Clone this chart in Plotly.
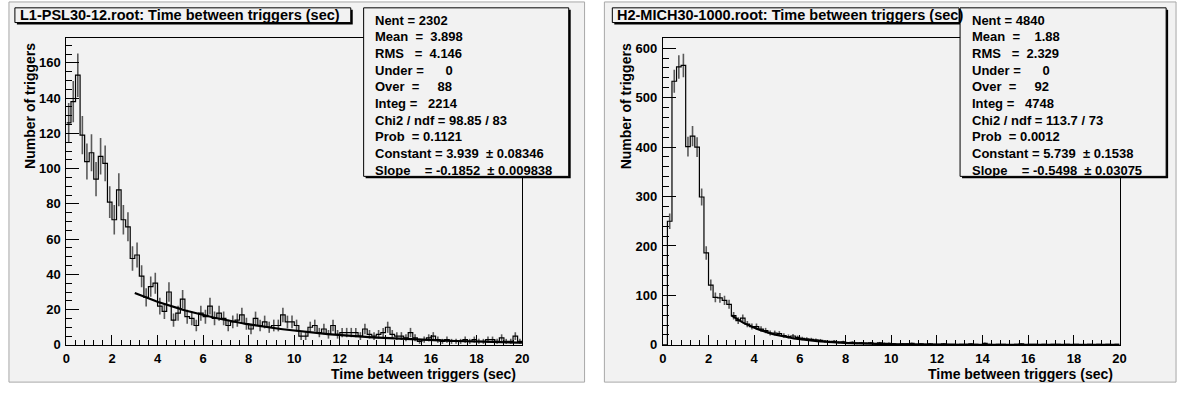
import numpy as np
import plotly.graph_objects as go

# ---------------- data ----------------
bin_edges = np.linspace(0.0, 20.0, 101)          # 100 bins of 0.2 s
x_ticks = [0, 2, 4, 6, 8, 10, 12, 14, 16, 18, 20]

left_title = "L1-PSL30-12.root: Time between triggers (sec)"
left_counts = [126, 138, 153, 119, 104, 109, 94, 107, 103, 81,
               71, 88, 71, 67, 49, 51, 39, 27, 33, 35,
               22, 19, 30, 14, 18, 26, 16, 15, 11, 18,
               16, 22, 15, 18, 15, 11, 13, 14, 17, 12,
               9, 15, 11, 13, 10, 11, 11, 17, 13, 13,
               11, 5, 5, 10, 11, 7, 9, 6, 11, 6,
               7, 7, 7, 7, 5, 9, 6, 5, 6, 7,
               10, 6, 5, 5, 4, 7, 4, 2, 3, 4,
               5, 3, 2, 3, 2, 2, 2, 3, 2, 3,
               2, 2, 3, 3, 2, 4, 2, 2, 5, 2]
left_fit_const, left_fit_slope = 3.939, -0.1852
left_fit_range = (3.0, 20.0)
left_stats = ["Nent = 2302",
              "Mean  =  3.898",
              "RMS   =  4.146",
              "Under =      0",
              "Over  =     88",
              "Integ =   2214",
              "Chi2 / ndf = 98.85 / 83",
              "Prob  = 0.1121",
              "Constant = 3.939  \u00b1 0.08346",
              "Slope    = -0.1852  \u00b1 0.009838"]

right_title = "H2-MICH30-1000.root: Time between triggers (sec)"
right_counts = [0, 250, 533, 562, 565, 401, 422, 400, 299, 186,
                121, 96, 95, 90, 82, 59, 49, 54, 42, 37,
                37, 32, 29, 24, 24, 23, 19, 17, 18, 15,
                13, 12, 11, 10, 9, 7, 6, 7, 5, 6,
                4, 5, 3, 4, 3, 4, 2, 4, 3, 3,
                2, 1, 2, 2, 3, 1, 2, 1, 2, 1,
                1, 2, 1, 1, 0, 1, 1, 2, 1, 0,
                3, 1, 0, 1, 1, 0, 0, 1, 2, 0,
                1, 1, 0, 1, 0, 1, 1, 0, 1, 0,
                1, 0, 0, 1, 0, 1, 0, 1, 0, 1]
right_fit_const, right_fit_slope = 5.739, -0.5498
right_fit_range = (3.0, 20.0)
right_stats = ["Nent = 4840",
               "Mean  =    1.88",
               "RMS   =  2.329",
               "Under =      0",
               "Over  =     92",
               "Integ =   4748",
               "Chi2 / ndf = 113.7 / 73",
               "Prob  = 0.0012",
               "Constant = 5.739  \u00b1 0.1538",
               "Slope    = -0.5498  \u00b1 0.03075"]

x_label = "Time between triggers (sec)"
y_label = "Number of triggers"

# ---------------- helpers ----------------
W, H = 1188, 396
FONT = "Liberation Sans, Arial, sans-serif"
PAD_BG = "#f2f2f2"


def fx(p):
    return p / W


def fy(p):
    return 1 - p / H


def nb(s):
    return s.replace(" ", "\u00a0")


fig = go.Figure()


def add_panel(counts, fconst, fslope, frange, xa, ya):
    counts = np.asarray(counts, dtype=float)
    centers = 0.5 * (bin_edges[:-1] + bin_edges[1:])
    # error bars
    fig.add_trace(go.Scatter(
        x=centers, y=counts, mode="markers", xaxis=xa, yaxis=ya,
        marker=dict(size=1, color="rgba(0,0,0,0)"),
        error_y=dict(type="data", array=np.sqrt(counts), width=0,
                     thickness=1.6, color="#5a5a5a"),
        showlegend=False, hoverinfo="skip"))
    # histogram outline
    sx = list(bin_edges)
    sy = list(counts) + [counts[-1]]
    fig.add_trace(go.Scatter(
        x=sx, y=sy, mode="lines", line=dict(shape="hv", color="black", width=1.2),
        xaxis=xa, yaxis=ya, showlegend=False, hoverinfo="skip"))
    # exponential fit expo = exp(Constant + Slope*x)
    xf = np.linspace(frange[0], frange[1], 200)
    fig.add_trace(go.Scatter(
        x=xf, y=np.exp(fconst + fslope * xf), mode="lines",
        line=dict(color="black", width=2.2),
        xaxis=xa, yaxis=ya, showlegend=False, hoverinfo="skip"))


add_panel(left_counts, left_fit_const, left_fit_slope, left_fit_range, "x", "y")
add_panel(right_counts, right_fit_const, right_fit_slope, right_fit_range, "x2", "y2")

tickfont = dict(family=FONT, size=13, color="black", weight="bold")


def xaxis_cfg(x0, x1, anchor):
    return dict(domain=[fx(x0), fx(x1)], range=[0, 20], anchor=anchor,
                tickvals=x_ticks, ticks="inside", ticklen=10, tickwidth=1,
                tickcolor="black", showline=True, mirror=True, linecolor="black",
                linewidth=1, showgrid=False, zeroline=False, tickfont=tickfont,
                ticklabelstandoff=2,
                minor=dict(ticks="inside", ticklen=5, dtick=0.4, tick0=0,
                           tickcolor="black", tickwidth=1, showgrid=False))


def yaxis_cfg(top_val, dt, mdt, anchor):
    return dict(domain=[fy(352), fy(39)], range=[0, top_val], anchor=anchor,
                dtick=dt, tick0=0, ticks="inside", ticklen=13, tickwidth=1,
                tickcolor="black", showline=True, mirror=True, linecolor="black",
                linewidth=1, showgrid=False, zeroline=False, tickfont=tickfont,
                ticklabelstandoff=2,
                minor=dict(ticks="inside", ticklen=6, dtick=mdt, tick0=0,
                           tickcolor="black", tickwidth=1, showgrid=False))


shapes = []
annotations = []

# pads
for (a, b) in [(5, 586), (606, 1183)]:
    shapes.append(dict(type="rect", xref="paper", yref="paper", layer="below",
                       x0=fx(a), x1=fx(b), y0=fy(390), y1=fy(2),
                       fillcolor=PAD_BG, line=dict(color="#a8a8a8", width=1)))


def box(a, b, t, bt):
    shapes.append(dict(type="rect", xref="paper", yref="paper", layer="above",
                       x0=fx(a + 2), x1=fx(b + 2), y0=fy(bt + 2), y1=fy(t + 2),
                       fillcolor="black", line=dict(width=0)))
    shapes.append(dict(type="rect", xref="paper", yref="paper", layer="above",
                       x0=fx(a), x1=fx(b), y0=fy(bt), y1=fy(t),
                       fillcolor=PAD_BG, line=dict(color="black", width=1)))


# title boxes & stats boxes
box(11, 350, 8, 23)
box(614, 964, 8, 23)
box(363, 570, 8, 180)
box(965, 1173, 8, 180)

annotations.append(dict(text=left_title, x=fx(14), y=fy(15.5), xref="paper", yref="paper",
                        xanchor="left", yanchor="middle", showarrow=False,
                        font=dict(family=FONT, size=14.5, color="black", weight="bold")))
annotations.append(dict(text=right_title, x=fx(617), y=fy(15.5), xref="paper", yref="paper",
                        xanchor="left", yanchor="middle", showarrow=False,
                        font=dict(family=FONT, size=14.5, color="black", weight="bold")))

for lines, x0 in [(left_stats, 372.5), (right_stats, 975)]:
    for i, s in enumerate(lines):
        annotations.append(dict(text=nb(s), x=fx(x0), y=fy(20.7 + 17.0 * i),
                                xref="paper", yref="paper", xanchor="left",
                                yanchor="middle", showarrow=False,
                                font=dict(family=FONT, size=13, color="black",
                                          weight="bold")))

# axis titles
for xr, ycx in [(519, 26), (1121, 628)]:
    annotations.append(dict(text=x_label, x=fx(xr), y=fy(381.5), xref="paper", yref="paper",
                            xanchor="right", yanchor="middle", showarrow=False,
                            font=dict(family=FONT, size=14, color="black", weight="bold")))
    annotations.append(dict(text=y_label, x=fx(ycx), y=fy(42), xref="paper", yref="paper",
                            xanchor="center", yanchor="top", textangle=-90, showarrow=False,
                            font=dict(family=FONT, size=14, color="black", weight="bold")))

fig.update_layout(
    width=W, height=H, autosize=False,
    margin=dict(l=0, r=0, t=0, b=0),
    paper_bgcolor="white", plot_bgcolor=PAD_BG,
    showlegend=False,
    xaxis=xaxis_cfg(63, 523, "y"),
    yaxis=yaxis_cfg(174, 20, 5, "x"),
    xaxis2=xaxis_cfg(665, 1126, "y2"),
    yaxis2=yaxis_cfg(620, 100, 20, "x2"),
    shapes=shapes, annotations=annotations,
)

fig.write_html("out.html")
